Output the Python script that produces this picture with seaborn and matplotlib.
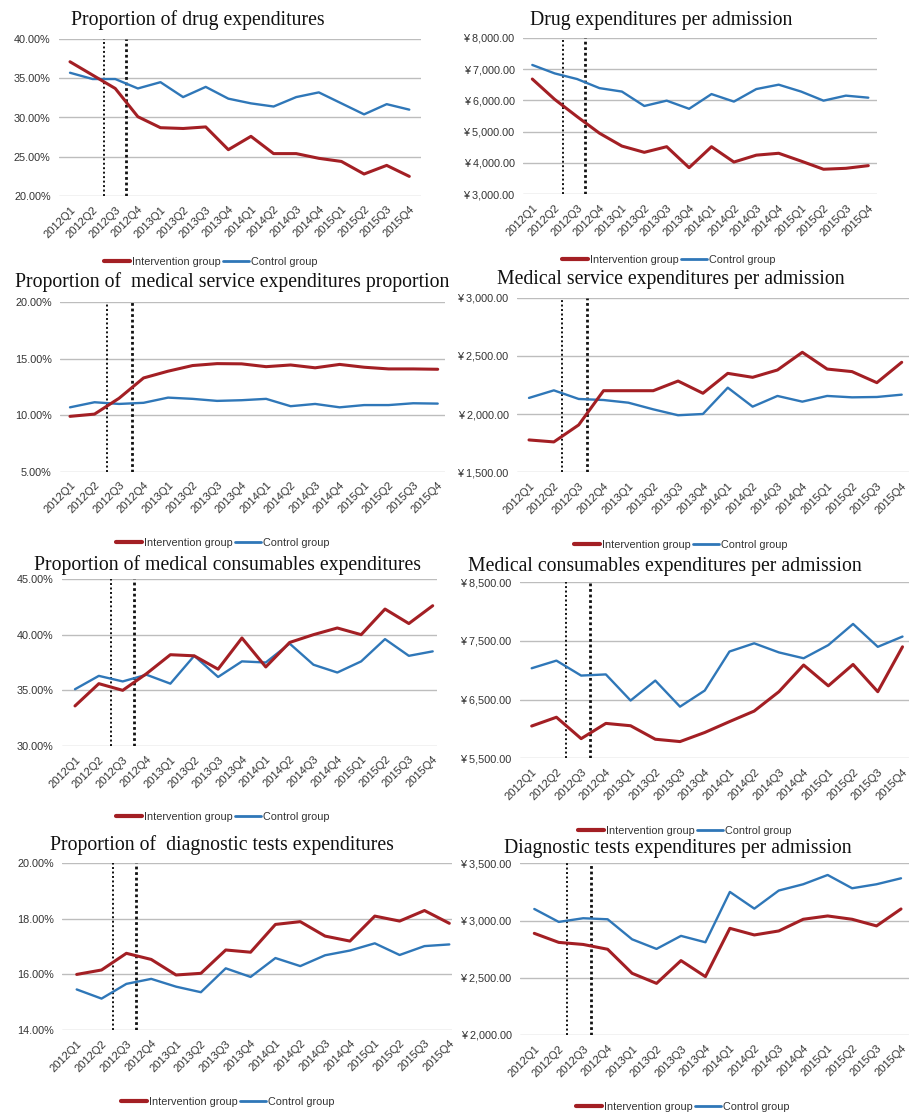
import numpy as np
import pandas as pd
import matplotlib
matplotlib.use("Agg")
import matplotlib.pyplot as plt
import seaborn as sns
from matplotlib.ticker import FuncFormatter

quarters = [f"{y}Q{q}" for y in (2012, 2013, 2014, 2015) for q in (1, 2, 3, 4)]

# proportions in percent, per-admission in yuan
drug_prop_int = [37.1, 35.4, 33.7, 30.1, 28.7, 28.6, 28.8, 25.9, 27.6, 25.4, 25.4, 24.8, 24.4, 22.8, 23.9, 22.5]
drug_prop_ctl = [35.7, 34.9, 34.9, 33.7, 34.5, 32.6, 33.9, 32.4, 31.8, 31.4, 32.6, 33.2, 31.8, 30.4, 31.7, 31.0]
drug_adm_int = [6680, 6030, 5480, 4950, 4540, 4340, 4520, 3850, 4520, 4030, 4250, 4310, 4060, 3800, 3830, 3915]
drug_adm_ctl = [7130, 6860, 6680, 6390, 6280, 5820, 5990, 5730, 6200, 5960, 6360, 6500, 6280, 5990, 6150, 6085]
serv_prop_int = [9.9, 10.1, 11.5, 13.3, 13.9, 14.4, 14.57, 14.55, 14.3, 14.45, 14.2, 14.5, 14.25, 14.1, 14.1, 14.07]
serv_prop_ctl = [10.7, 11.15, 11.0, 11.1, 11.56, 11.45, 11.27, 11.33, 11.45, 10.8, 11.0, 10.7, 10.9, 10.9, 11.06, 11.03]
serv_adm_int = [1778, 1761, 1907, 2201, 2201, 2201, 2284, 2179, 2350, 2316, 2379, 2531, 2387, 2365, 2270, 2445]
serv_adm_ctl = [2139, 2204, 2130, 2121, 2098, 2041, 1990, 2001, 2227, 2064, 2156, 2107, 2156, 2144, 2147, 2167]
cons_prop_int = [33.6, 35.6, 35.0, 36.5, 38.2, 38.1, 36.9, 39.7, 37.1, 39.3, 40.0, 40.6, 40.0, 42.3, 41.0, 42.6]
cons_prop_ctl = [35.1, 36.3, 35.8, 36.4, 35.6, 38.1, 36.2, 37.6, 37.5, 39.2, 37.3, 36.6, 37.6, 39.6, 38.1, 38.5]
cons_adm_int = [6050, 6200, 5835, 6095, 6055, 5825, 5785, 5940, 6125, 6305, 6635, 7090, 6735, 7100, 6635, 7400]
cons_adm_ctl = [7035, 7165, 6910, 6930, 6485, 6825, 6380, 6655, 7320, 7460, 7305, 7205, 7430, 7790, 7400, 7575]
diag_prop_int = [16.0, 16.16, 16.76, 16.54, 15.98, 16.04, 16.88, 16.8, 17.8, 17.9, 17.38, 17.2, 18.1, 17.92, 18.3, 17.84]
diag_prop_ctl = [15.46, 15.13, 15.66, 15.84, 15.56, 15.36, 16.22, 15.91, 16.59, 16.3, 16.69, 16.86, 17.12, 16.7, 17.02, 17.08]
diag_adm_int = [2888, 2809, 2791, 2749, 2539, 2451, 2650, 2510, 2932, 2874, 2909, 3011, 3040, 3011, 2953, 3101]
diag_adm_ctl = [3101, 2988, 3020, 3011, 2836, 2752, 2866, 2810, 3250, 3104, 3262, 3317, 3398, 3282, 3317, 3369]

titles = [
    "Proportion of drug expenditures",
    "Drug expenditures per admission",
    "Proportion of  medical service expenditures proportion",
    "Medical service expenditures per admission",
    "Proportion of medical consumables expenditures",
    "Medical consumables expenditures per admission",
    "Proportion of  diagnostic tests expenditures",
    "Diagnostic tests expenditures per admission",
]
series = [
    (drug_prop_int, drug_prop_ctl), (drug_adm_int, drug_adm_ctl),
    (serv_prop_int, serv_prop_ctl), (serv_adm_int, serv_adm_ctl),
    (cons_prop_int, cons_prop_ctl), (cons_adm_int, cons_adm_ctl),
    (diag_prop_int, diag_prop_ctl), (diag_adm_int, diag_adm_ctl),
]
yticks = [
    [20, 25, 30, 35, 40], [3000, 4000, 5000, 6000, 7000, 8000],
    [5, 10, 15, 20], [1500, 2000, 2500, 3000],
    [30, 35, 40, 45], [5500, 6500, 7500, 8500],
    [14, 16, 18, 20], [2000, 2500, 3000, 3500],
]
is_pct = [True, False, True, False, True, False, True, False]

# pixel layout: grid left/right, x of first/last quarter, top/bottom, title xy, legend xy, cut lines
layout = [
    (59, 421, 70, 409.3, 39, 196, (198, 20), (211, 262), (1.52, 2.47)),
    (523, 877, 532.3, 868.3, 37.7, 194.3, (661, 20), (669, 260), (1.35, 2.35)),
    (60, 445, 70, 437.7, 302.3, 471.7, (232, 282), (223, 543), (1.52, 2.52)),
    (517, 909, 529, 901.7, 297.7, 472.3, (671, 280), (681, 545), (1.34, 2.34)),
    (62, 437, 75, 432.7, 579, 746, (228, 565), (223, 817), (1.51, 2.49)),
    (520, 909, 531.7, 902.5, 582.3, 758.3, (665, 567), (685, 831), (1.37, 2.35)),
    (62, 452, 76.7, 449.3, 863.3, 1030, (222, 845), (228, 1102), (1.45, 2.39)),
    (520, 909, 534.3, 901, 863.3, 1035, (678, 848), (683, 1107), (1.32, 2.31)),
]

RED = "#A31F24"
BLUE = "#2F77B8"
W, H = 909, 1116

sns.set_style("white")
plt.rcParams["font.family"] = ["Liberation Sans", "DejaVu Sans"]

fig = plt.figure(figsize=(W / 100, H / 100), dpi=100)
x = np.arange(len(quarters))

for i in range(8):
    gl, gr, q1, q4, top, bot, tpos, lpos, cuts = layout[i]
    ax = fig.add_axes([gl / W, 1 - bot / H, (gr - gl) / W, (bot - top) / H])
    unit = (q4 - q1) / 15
    ax.set_xlim((gl - q1) / unit, 15 + (gr - q4) / unit)
    yt = yticks[i]
    ax.set_ylim(yt[0], yt[-1])

    for t in yt:
        ax.axhline(t, color="#BDBDBD", lw=1.0, zorder=0)

    ax.axvline(cuts[0], color="#111111", ls=(0, (1, 1.3)), lw=1.4, zorder=1)
    ax.axvline(cuts[1], color="#111111", ls=(0, (1, 1.0)), lw=2.0, zorder=1)

    vi, vc = series[i]
    df = pd.DataFrame({"q": x, "Intervention group": vi, "Control group": vc})
    sns.lineplot(data=df, x="q", y="Control group", color=BLUE, lw=1.7, ax=ax, zorder=3)
    sns.lineplot(data=df, x="q", y="Intervention group", color=RED, lw=2.2, ax=ax, zorder=4)

    ax.set_xticks(x)
    ax.set_xticklabels(quarters, rotation=45, ha="right", rotation_mode="anchor",
                       fontsize=8, color="#333333")
    ax.set_yticks(yt)
    if is_pct[i]:
        ax.yaxis.set_major_formatter(FuncFormatter(lambda v, p: f"{v:.2f}%"))
    else:
        ax.yaxis.set_major_formatter(FuncFormatter(lambda v, p: f"¥ {v:,.2f}"))
    ax.tick_params(axis="y", labelsize=7.8, labelcolor="#333333", length=0, pad=6)
    ax.tick_params(axis="x", length=0, pad=6)
    ax.set_xlabel("")
    ax.set_ylabel("")
    for s in ax.spines.values():
        s.set_visible(False)

    fig.text(tpos[0] / W, 1 - tpos[1] / H, titles[i], ha="center", va="center",
             family="Liberation Serif", fontsize=14.2, color="#111111")

    handles = [plt.Line2D([], [], color=RED, lw=3), plt.Line2D([], [], color=BLUE, lw=2)]
    ax.legend(handles, ["Intervention group", "Control group"], loc="center",
              bbox_to_anchor=(lpos[0] / W, 1 - lpos[1] / H), bbox_transform=fig.transFigure,
              ncol=2, frameon=False, fontsize=7.8, labelcolor="#333333",
              handlelength=2.4, handletextpad=0.2, columnspacing=0.2, borderpad=0)

fig.savefig("out.png", dpi=100, facecolor="white")
